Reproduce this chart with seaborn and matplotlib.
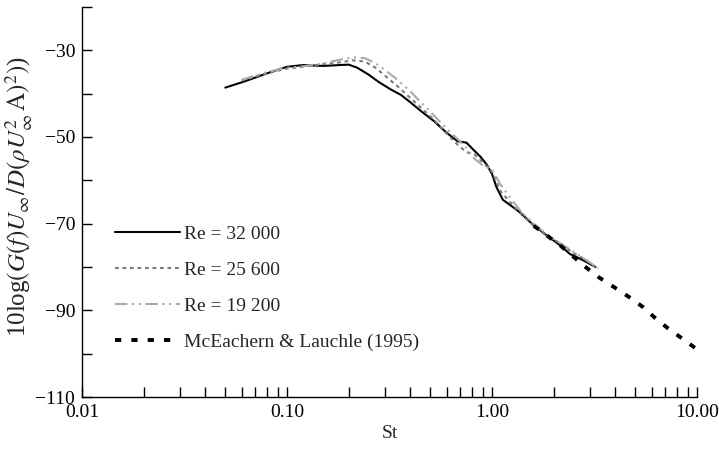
import numpy as np
import pandas as pd
import matplotlib
matplotlib.use("Agg")
import matplotlib.pyplot as plt
import seaborn as sns
from matplotlib.ticker import FixedLocator, NullFormatter, FixedFormatter

# ---- data ----
st_32000 = [0.05, 0.06, 0.07, 0.08, 0.09, 0.10, 0.12, 0.15, 0.18, 0.20, 0.22, 0.25, 0.28,
            0.32, 0.36, 0.40, 0.45, 0.52, 0.60, 0.68, 0.75, 0.81, 0.88, 0.94, 1.00, 1.05,
            1.13, 1.25, 1.37, 1.59, 1.85, 2.15, 2.40, 2.80, 3.20]
g_32000 = [-38.6, -37.4, -36.3, -35.3, -34.5, -33.8, -33.4, -33.6, -33.4, -33.3, -34.0, -35.6,
           -37.3, -39.0, -40.3, -42.0, -44.0, -46.3, -49.0, -51.0, -51.3, -52.9, -54.6, -56.3,
           -58.5, -61.5, -64.5, -66.0, -67.4, -70.3, -72.7, -75.0, -77.0, -78.5, -80.0]

st_25600 = [0.06, 0.08, 0.10, 0.12, 0.15, 0.18, 0.21, 0.24, 0.27, 0.30, 0.35, 0.40, 0.45,
            0.52, 0.60, 0.68, 0.75, 0.82, 0.90, 1.00, 1.10, 1.25, 1.40, 1.60, 1.85, 2.15,
            2.50, 2.90, 3.30]
g_25600 = [-37.0, -35.3, -34.2, -33.8, -33.2, -32.8, -32.3, -32.6, -34.0, -35.8, -38.5, -41.0,
           -43.2, -46.0, -49.2, -51.8, -53.5, -54.0, -55.8, -58.0, -62.5, -65.5, -68.0, -70.5,
           -72.8, -74.5, -76.8, -78.5, -80.5]

st_19200 = [0.06, 0.08, 0.10, 0.12, 0.15, 0.18, 0.21, 0.24, 0.27, 0.30, 0.35, 0.40, 0.45,
            0.52, 0.60, 0.68, 0.75, 0.82, 0.90, 1.00, 1.10, 1.25, 1.40, 1.60, 1.85, 2.15,
            2.50, 2.90, 3.30]
g_19200 = [-36.8, -35.0, -34.0, -33.7, -33.0, -32.2, -31.6, -31.8, -33.0, -34.5, -37.0, -39.5,
           -42.0, -45.0, -48.0, -50.5, -52.5, -55.0, -56.5, -57.5, -61.0, -64.5, -67.5, -70.0,
           -72.5, -74.5, -76.5, -78.5, -80.3]

st_mce = [1.60, 2.15, 2.45, 2.79, 3.30, 3.84, 4.29, 4.86, 5.47, 6.19, 7.24, 8.58, 10.0]
g_mce = [-70.5, -75.0, -77.3, -79.6, -82.3, -84.3, -85.8, -87.5, -89.3, -91.6, -94.2, -96.7, -99.0]

labels = ["Re = 32 000", "Re = 25 600", "Re = 19 200", "McEachern & Lauchle (1995)"]

x_major = [0.01, 0.1, 1.0, 10.0]
x_major_labels = ["0.01", "0.10", "1.00", "10.00"]
y_major = [-110, -90, -70, -50, -30]
y_minor = [-100, -80, -60, -40, -20]

# ---- styling ----
sns.set_theme(style="ticks")
plt.rcParams["font.family"] = ["Liberation Serif", "DejaVu Serif"]
plt.rcParams["mathtext.fontset"] = "stix"
plt.rcParams["axes.unicode_minus"] = True

fig = plt.figure(figsize=(7.19, 4.51), dpi=100)
ax = fig.add_axes([82 / 719, 1 - 397 / 451, (697 - 82) / 719, (397 - 7) / 451])

series = [
    (st_32000, g_32000, labels[0], dict(color="black", lw=1.5, ls="-")),
    (st_25600, g_25600, labels[1], dict(color="#7a7a7a", lw=1.5, dashes=(1.8, 1.8))),
    (st_19200, g_19200, labels[2], dict(color="#aaaaaa", lw=1.5, dashes=(6, 2.2, 1, 2.2, 1, 2.2))),
    (st_mce, g_mce, labels[3], dict(color="black", lw=2.8, dashes=(1.6, 2.6))),
]
for xs, ys, lab, kw in series:
    df = pd.DataFrame({"St": xs, "G": ys})
    sns.lineplot(data=df, x="St", y="G", ax=ax, label=lab, **kw)

ax.set_xscale("log")
ax.set_xlim(0.01, 10.0)
ax.set_ylim(-110, -20)

ax.xaxis.set_major_locator(FixedLocator(x_major))
ax.xaxis.set_major_formatter(FixedFormatter(x_major_labels))
minor_x = [m * 10.0 ** e for e in (-2, -1, 0) for m in range(2, 10)]
ax.xaxis.set_minor_locator(FixedLocator(minor_x))
ax.xaxis.set_minor_formatter(NullFormatter())

ax.yaxis.set_major_locator(FixedLocator(y_major))
ax.yaxis.set_minor_locator(FixedLocator(y_minor))
ax.yaxis.set_minor_formatter(NullFormatter())

ax.tick_params(axis="both", which="both", direction="in", length=7, width=1.0,
               colors="black", labelsize=14)
ax.tick_params(axis="x", which="major", pad=5)
ax.tick_params(axis="y", which="major", pad=5)

for s in ("top", "right"):
    ax.spines[s].set_visible(False)
for s in ("left", "bottom"):
    ax.spines[s].set_color("black")
    ax.spines[s].set_linewidth(1.0)

ax.set_xlabel("St", fontsize=14, labelpad=3)
ax.set_ylabel(r"10log$(G(f)U_\infty/D(\rho U_\infty^2\,\mathrm{A})^2)$)", fontsize=18, labelpad=0)
ax.yaxis.set_label_coords(-0.076, 0.515)

leg = ax.legend(loc="upper left", bbox_to_anchor=(0.025, 0.485), frameon=False,
                fontsize=14, handlelength=3.35, labelspacing=0.95, handletextpad=0.2)

fig.savefig("out.png", dpi=100)
